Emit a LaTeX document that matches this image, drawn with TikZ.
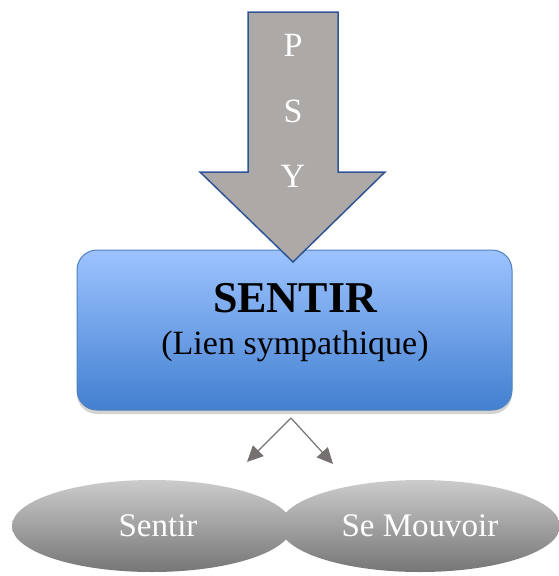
\documentclass[tikz,border=0pt]{standalone}
\usepackage{fontspec}
\setmainfont{Liberation Serif}
\usetikzlibrary{shapes.geometric}
\usetikzlibrary{shadows}
\usetikzlibrary{arrows.meta}
\definecolor{psygray}{RGB}{173,169,167}
\definecolor{psyedge}{RGB}{47,85,151}
\definecolor{boxtop}{RGB}{157,195,255}
\definecolor{boxbottom}{RGB}{66,128,208}
\definecolor{boxedge}{RGB}{79,129,189}
\definecolor{lobetop}{RGB}{204,204,204}
\definecolor{lobebottom}{RGB}{118,118,118}
\definecolor{branchgray}{RGB}{118,113,113}
\tikzstyle{psyarrow}=[draw=psyedge, fill=psygray, line width=1.5pt, line join=miter]
\tikzstyle{letter}=[text=white, font=\fontsize{34}{34}\selectfont]
\tikzstyle{sentirbox}=[draw=boxedge, line width=1pt, rounded corners=20pt, minimum width=435pt, minimum height=160pt, top color=boxtop, bottom color=boxbottom, drop shadow={opacity=0.35, shadow xshift=0pt, shadow yshift=-4pt}]
\tikzstyle{branch}=[draw=branchgray, line width=1.2pt, -{Triangle[length=16pt, width=15pt]}]
\tikzstyle{lobe}=[ellipse, inner sep=0pt, minimum width=280pt, minimum height=92pt, top color=lobetop, bottom color=lobebottom, text=white, font=\fontsize{33}{33}\selectfont]

\begin{document}
\begin{tikzpicture}[x=1pt, y=-1pt]
        \useasboundingbox (0, 0) rectangle (558, 576);
        \node[sentirbox] (box) at (294.5, 330) {};
        \draw[psyarrow] (248, 12) -- (338, 12) -- (338, 172) -- (385, 172) -- (293, 262) -- (200, 172) -- (248, 172) -- cycle;
        \node[letter] (p) at (293, 45) {P};
        \node[letter] (s) at (293, 111) {S};
        \node[letter] (y) at (293, 176) {Y};
        \node[font=\fontsize{44}{44}\selectfont\bfseries] (title) at (295, 298) {SENTIR};
        \node[font=\fontsize{34}{34}\selectfont] (sub) at (295, 346) {(Lien sympathique)};
        \coordinate (fork) at (291, 418);
        \coordinate (tipL) at (247, 462);
        \coordinate (tipR) at (333, 464);
        \draw[branch] (fork) -- (tipL);
        \draw[branch] (fork) -- (tipR);
        \node[lobe] (sentir) at (152, 526) {\hspace*{12pt}Sentir};
        \node[lobe] (mouvoir) at (420, 526) {Se Mouvoir};
    \end{tikzpicture}
\end{document}
